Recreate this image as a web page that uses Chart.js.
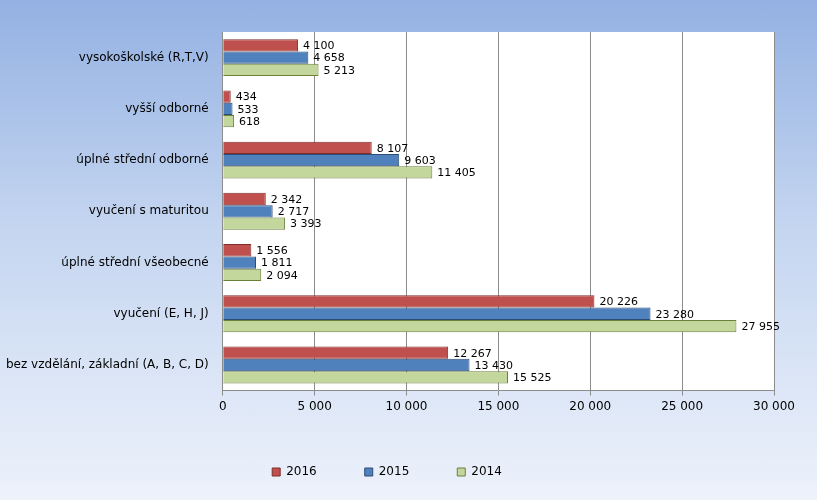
<!DOCTYPE html>
<html>
<head>
<meta charset="utf-8">
<script src="https://cdn.jsdelivr.net/npm/chart.js@4/dist/chart.umd.min.js"></script>
<style>
  html, body { margin: 0; padding: 0; }
  body {
    width: 817px; height: 500px;
    background: linear-gradient(to bottom, #93b1e2 0%, #c4d5f0 45%, #edf2fb 100%);
  }
  #wrap { position: relative; width: 817px; height: 500px; }
</style>
</head>
<body>
<div id="wrap"><canvas id="chart"></canvas></div>
<script>
// Categories top to bottom
const categories = [
    'vysokoškolské (R,T,V)',
    'vyšší odborné',
    'úplné střední odborné',
    'vyučení s maturitou',
    'úplné střední všeobecné',
    'vyučení (E, H, J)',
    'bez vzdělání, základní (A, B, C, D)',
];
const values2016 = [4100, 434, 8107, 2342, 1556, 20226, 12267];
const values2015 = [4658, 533, 9603, 2717, 1811, 23280, 13430];
const values2014 = [5213, 618, 11405, 3393, 2094, 27955, 15525];
const xTicks = [0, 5000, 10000, 15000, 20000, 25000, 30000];

const fmt = (v) => String(v).replace(/\B(?=(\d{3})+(?!\d))/g, ' ');

// White plot area behind the bars
const plotBackground = {
    id: 'plotBackground',
    beforeDraw(chart) {
        const { ctx, chartArea: a } = chart;
        ctx.save();
        ctx.fillStyle = '#ffffff';
        ctx.fillRect(a.left, a.top, a.right - a.left, a.bottom - a.top);
        ctx.restore();
    },
};

// Value labels to the right of every bar
const barLabels = {
    id: 'barLabels',
    afterDatasetsDraw(chart) {
        const { ctx } = chart;
        ctx.save();
        ctx.font = '11px "DejaVu Sans", sans-serif';
        ctx.fillStyle = '#000';
        ctx.textBaseline = 'middle';
        chart.data.datasets.forEach((ds, i) => {
            chart.getDatasetMeta(i).data.forEach((bar, j) => {
                ctx.fillText(fmt(ds.data[j]), bar.x + 5, bar.y + 1);
            });
        });
        ctx.restore();
    },
};

const mk = (label, data, bg, border) => ({
    label, data, backgroundColor: bg, borderColor: border, borderWidth: 1,
    categoryPercentage: 0.72, barPercentage: 1,
});

new Chart(document.getElementById('chart'), {
    type: 'bar',
    data: {
        labels: categories,
        datasets: [
            mk('2016', values2016, '#c0504d', '#7f2d2b'),
            mk('2015', values2015, '#4f81bd', '#2c4d75'),
            mk('2014', values2014, '#c3d69b', '#6b7f3a'),
        ],
    },
    options: {
        indexAxis: 'y',
        responsive: true,
        maintainAspectRatio: false,
        animation: false,
        layout: { padding: { top: 32, right: 43, left: 0, bottom: 12 } },
        plugins: {
            legend: {
                position: 'bottom',
                labels: {
                    boxWidth: 8, boxHeight: 8, padding: 48,
                    color: '#000',
                    font: { size: 12, family: '"DejaVu Sans", sans-serif' },
                },
            },
            tooltip: { enabled: false },
        },
        scales: {
            x: {
                min: 0, max: 30000,
                afterBuildTicks: (axis) => { axis.ticks = xTicks.map((v) => ({ value: v })); },
                grid: { color: '#8c8c8c', drawTicks: true, tickLength: 5 },
                border: { color: '#8c8c8c' },
                ticks: {
                    color: '#000',
                    font: { size: 12, family: '"DejaVu Sans", sans-serif' },
                    callback: (v) => fmt(v),
                    padding: 4,
                },
            },
            y: {
                grid: { display: false, drawTicks: true },
                border: { color: '#8c8c8c' },
                ticks: {
                    color: '#000',
                    font: { size: 12, family: '"DejaVu Sans", sans-serif' },
                    padding: 6,
                },
            },
        },
    },
    plugins: [plotBackground, barLabels],
});
</script>
</body>
</html>
